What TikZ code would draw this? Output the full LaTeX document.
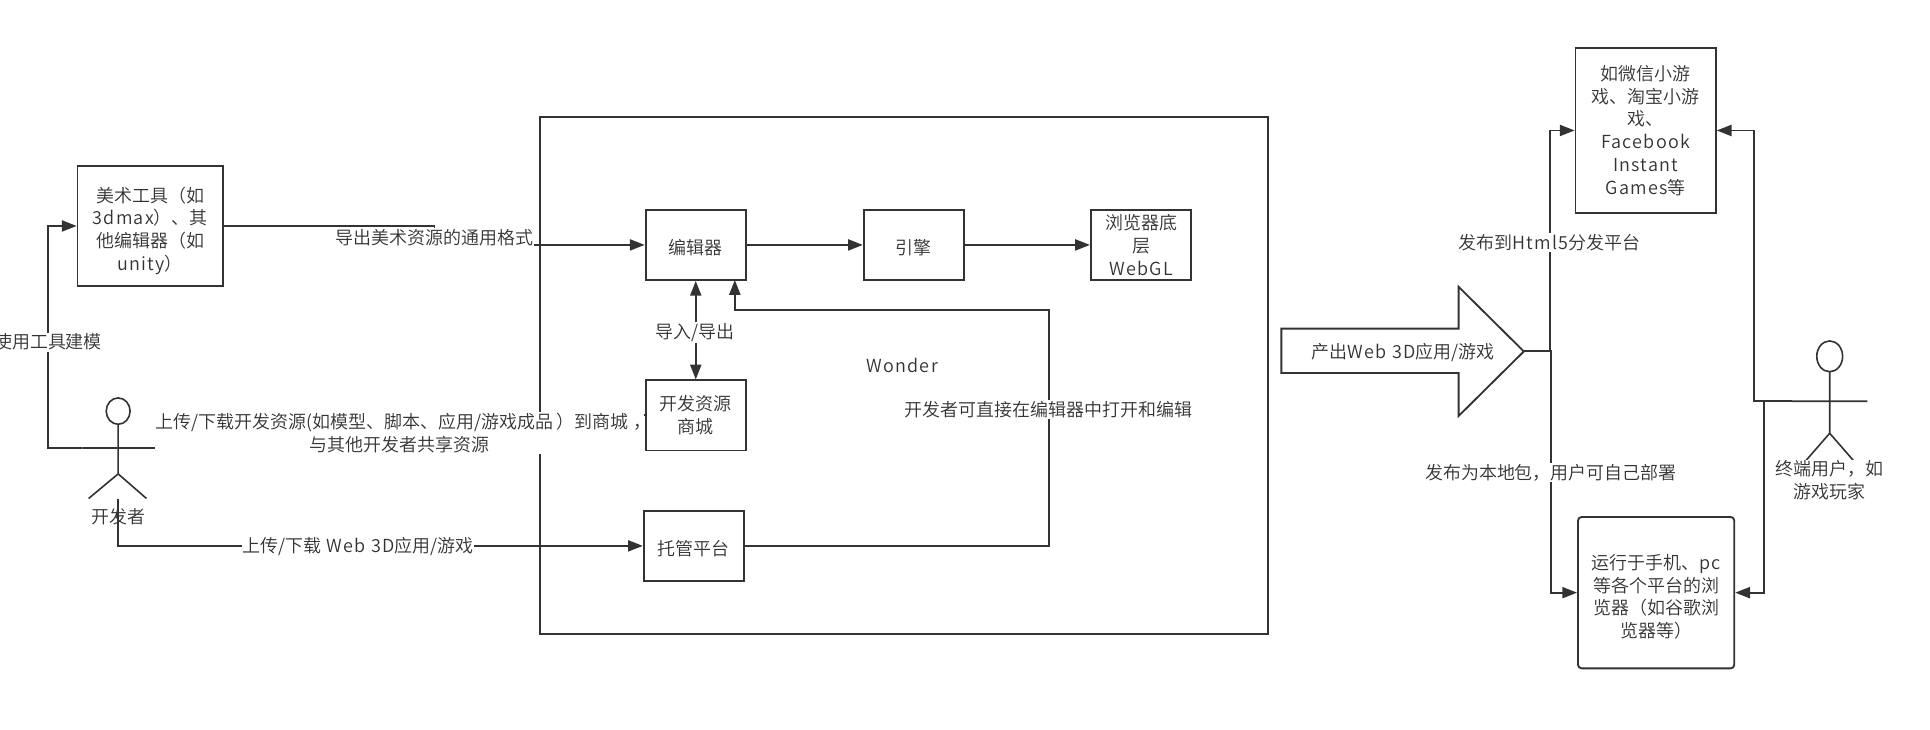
\documentclass[tikz,border=0pt]{standalone}
\usepackage{fontspec}
\setmainfont{Noto Sans CJK SC DemiLight}
\newfontfamily\latfont{Noto Sans CJK SC DemiLight}[LetterSpace=7]
\newcommand{\lat}[1]{{\latfont #1}}
\usetikzlibrary{arrows.meta,calc}
\definecolor{ink}{HTML}{333333}
\tikzset{
  every node/.style={text=ink,font=\fontsize{14.6}{18.5}\selectfont,inner sep=0pt,align=center},
  boxnode/.style={draw=ink,line width=1.5pt,minimum width=#1,fill=white,execute at begin node={\rule{0pt}{16pt}}},
  boxnode/.default=81.5pt,
  link/.style={draw=ink,line width=1.5pt,-{Triangle[length=12pt,width=9pt]}},
  plain link/.style={draw=ink,line width=1.5pt},
  both link/.style={draw=ink,line width=1.5pt,{Triangle[length=12pt,width=9pt]}-{Triangle[length=12pt,width=9pt]}},
  lab/.style={fill=white,inner xsep=0.5pt,inner ysep=1pt},
  figure line/.style={draw=ink,line width=1.3pt}
}
\begin{document}
\begin{tikzpicture}[x=1pt,y=-1pt]
\useasboundingbox (0,0) rectangle (1568,593);
\fill[white] (0,0) rectangle (1568,593);
% Wonder container
\node[draw=ink,line width=1.5pt,minimum width=591pt,minimum height=420pt] (wonder) at (734.5,305) {};
\node (wondertext) at (733,297) {\lat{Wonder}};
% boxes
\node[boxnode=118pt,minimum height=98pt] (art) at (122,183.6) {\rule{0pt}{20pt}美术工具（如\\\lat{3dmax}）、其\\他编辑器（如\\\lat{unity}）};
\node[boxnode,minimum height=57pt] (editor) at (565.25,199) {编辑器};
\node[boxnode,minimum height=57pt] (engine) at (742.5,199) {引擎};
\node[boxnode,minimum height=57pt] (webgl) at (927,199) {浏览器底\\层\\\lat{WebGL}};
\node[boxnode,minimum height=57pt] (store) at (565.25,337.5) {开发资源\\商城};
\node[boxnode,minimum height=57pt] (host) at (563.75,443.5) {托管平台};
\node[boxnode=114pt,minimum height=134pt] (mini) at (1337,106) {如微信小游\\戏、淘宝小游\\戏、\\\lat{Facebook}\\\lat{Instant}\\\lat{Games}等};
\node[boxnode=127pt,minimum height=123pt,rounded corners=3pt] (browser) at (1345.5,481.5) {\rule{0pt}{19pt}运行于手机、\lat{pc}\\等各个平台的浏\\览器（如谷歌浏\\览器等）};
% big arrow
\draw[draw=ink,line width=1.5pt,line join=miter] (1041,267) -- (1185,267) -- (1185,233) -- (1238,285.5) -- (1185,338) -- (1185,303) -- (1041,303) -- cycle;
\coordinate (tip) at (1238,285.5);
\node (arrowtext) at (1140,286) {产出\lat{Web 3D}应用\lat{/}游戏};
% developer actor
\coordinate (devhead) at (96,334);
\coordinate (devneck) at (96,344.5);
\coordinate (devhip) at (96,385);
\coordinate (devarmL) at (67,364);
\coordinate (devarmR) at (125,364);
\coordinate (devfoot) at (96,405);
\draw[figure line] (devhead) ellipse (9.7pt and 10.7pt);
\draw[figure line] (devneck) -- (devhip) (devarmL) -- (devarmR) (72,405) -- (devhip) -- (119,405);
% user actor
\coordinate (userhead) at (1486.5,289.5);
\coordinate (userneck) at (1486.5,302);
\coordinate (userhip) at (1486.5,352);
\coordinate (userarmL) at (1456,326);
\coordinate (userarmR) at (1517,326);
\draw[figure line] (userhead) ellipse (10.5pt and 12.5pt);
\draw[figure line] (userneck) -- (userhip) (userarmL) -- (userarmR) (1463,379) -- (userhip) -- (1510,379);
% connectors
\draw[link] (devarmL) -- (39,364) |- (art.west);
\node[lab] (l1) at (39,278) {使用工具建模};
\draw[plain link] (art.east) -| (353,199);
\draw[link] (353,199) -- (editor.west);
\node[lab] (l2) at (353,193) {导出美术资源的通用格式};
\draw[link] (editor) -- (engine);
\draw[link] (engine) -- (webgl);
\draw[both link] (editor) -- (store);
\node[lab] (l3) at (565,270) {导入\lat{/}导出};
\draw[plain link] (devarmR) -| (325,337.5) -- (store.west);
\node[lab] (l4) at (324.5,352) {上传\lat{/}下载开发资源\lat{(}如模型、脚本、应用\lat{/}游戏成品\kern3pt）到商城\kern4pt，\kern-7pt\\与其他开发者共享资源};
\draw[link] (devfoot) |- (host.west);
\node[lab] (l5) at (291,444) {上传\lat{/}下载\lat{ Web 3D}应用\lat{/}游戏};
\draw[link] (host.east) -- (852,443.5) -- (852,252) -- (597,252) -- (597,227.5);
\node[lab] (l6) at (852,333) {开发者可直接在编辑器中打开和编辑};
\draw[link] (tip) -- (1259,285.5) |- (mini.west);
\node[lab] (l7) at (1259,197) {发布到\lat{Html5}分发平台};
\draw[link] (tip) -- (1260,285.5) |- (browser.west);
\node[lab] (l8) at (1260,384) {发布为本地包，用户可自己部署};
\draw[link] (userarmL) -- (1425,326) |- (mini.east);
\draw[link] (userarmL) -- (1433,326) |- (browser.east);
% free labels
\node (devlabel) at (96,419.5) {开发者};
\node[fill=white] (userlabel) at (1486,390) {终端用户，如\\游戏玩家};
\end{tikzpicture}
\end{document}
